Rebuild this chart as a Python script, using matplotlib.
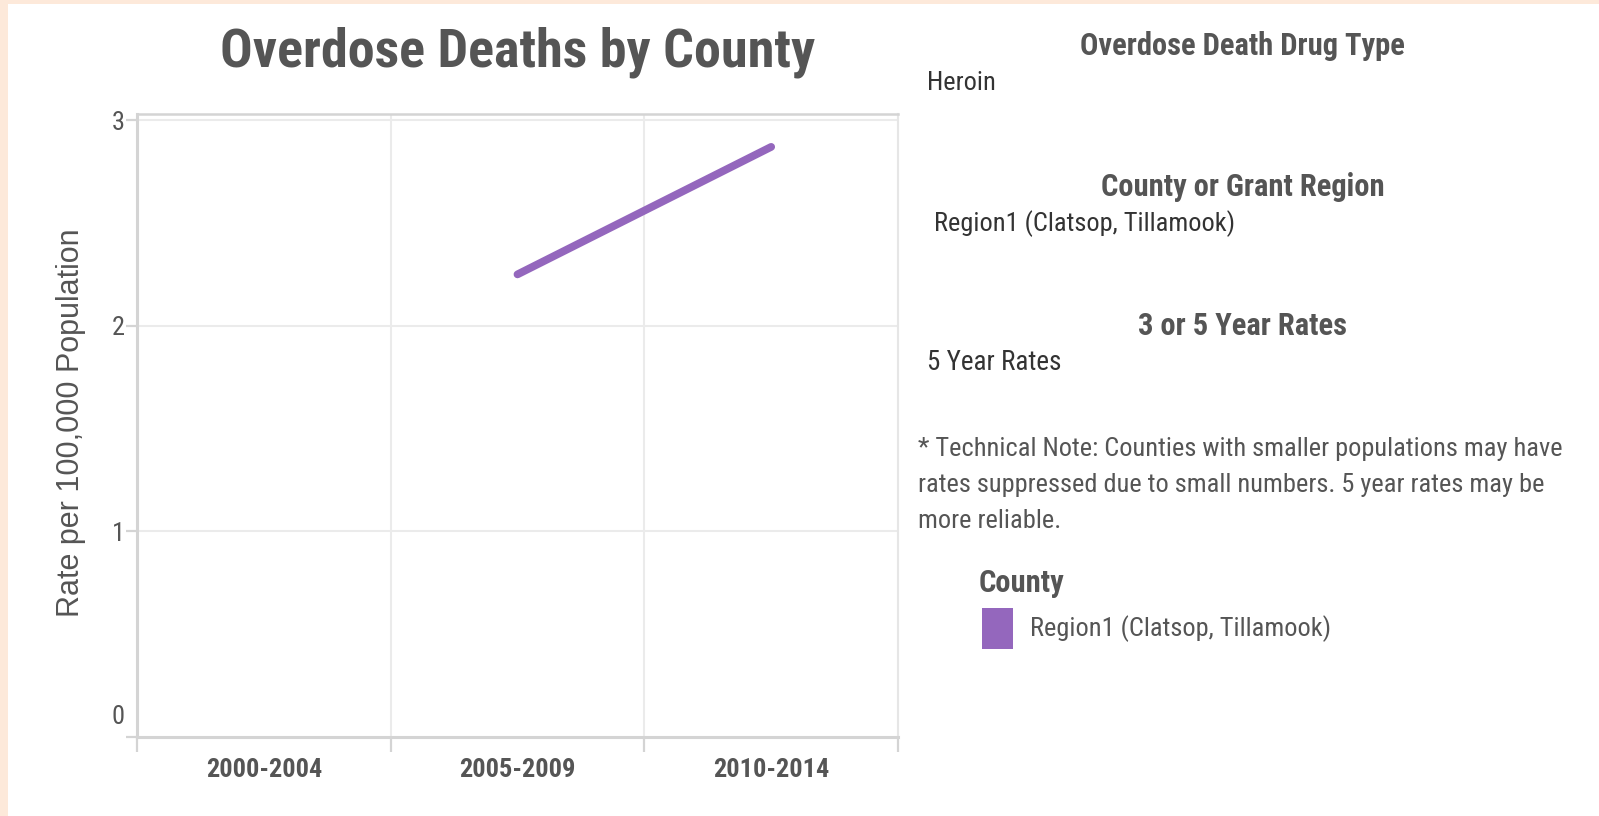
import numpy as np
import matplotlib
matplotlib.use("Agg")
import matplotlib.pyplot as plt
import matplotlib.transforms as mtransforms
from matplotlib.patches import Rectangle

# data
periods = ["2000-2004", "2005-2009", "2010-2014"]
rates = [np.nan, 2.25, 2.87]
series_name = "Region1 (Clatsop, Tillamook)"
y_ticks = [0, 1, 2, 3]

W, H = 1599, 816
NARROW = ["Roboto Condensed", "Liberation Sans", "DejaVu Sans"]
ARIAL = ["Liberation Sans", "DejaVu Sans"]
TXT = "#555555"
GRID = "#ebebeb"
AXC = "#d4d4d4"
PURPLE = "#9467bd"


def fx(px):
    return px / W


def fy(py):
    return 1 - py / H


fig = plt.figure(figsize=(W / 100, H / 100), dpi=100, facecolor="#fde9da")
fig.patches.append(Rectangle((fx(8), 0), 1, fy(4), transform=fig.transFigure,
                             facecolor="white", edgecolor="none", zorder=-5))

ax = fig.add_axes([fx(137), fy(737), fx(898 - 137), (737 - 114) / H])
x = np.arange(len(periods))
ax.plot(x, rates, color=PURPLE, lw=5.6, solid_capstyle="round", zorder=3)

ax.set_xlim(-0.5, 2.5)
ax.set_ylim(0, 3.03)
ax.set_xticks(x)
ax.set_xticklabels(periods, fontfamily=NARROW, fontweight="bold", fontsize=19, color=TXT)
ax.set_xticks([-0.5, 0.5, 1.5, 2.5], minor=True)
ax.tick_params(axis="x", which="major", length=0, pad=15)
ax.tick_params(axis="x", which="minor", length=11, width=1.6, color=AXC, direction="out")
ax.set_yticks(y_ticks)
ax.set_yticklabels([str(v) for v in y_ticks], fontfamily=NARROW, fontsize=19, color=TXT)
ax.tick_params(axis="y", length=8, width=1.6, color=AXC, pad=1)
zero_lab = ax.get_yticklabels()[0]
zero_lab.set_va("bottom")
zero_lab.set_transform(zero_lab.get_transform() +
                       mtransforms.ScaledTranslation(0, 6 / 72, fig.dpi_scale_trans))

for v in [0.5, 1.5]:
    ax.axvline(v, color=GRID, lw=1.5, zorder=1)
for v in [1, 2, 3]:
    ax.axhline(v, color=GRID, lw=1.5, zorder=1)

for s in ["left", "bottom"]:
    ax.spines[s].set_color(AXC)
    ax.spines[s].set_linewidth(2.2)
ax.spines["top"].set_color(AXC)
ax.spines["top"].set_linewidth(1.8)
ax.spines["right"].set_color("#e6e6e6")
ax.spines["right"].set_linewidth(1.5)

fig.text(fx(71), fy(423), "Rate per 100,000 Population", rotation=90,
         ha="center", va="center", fontfamily=ARIAL, fontsize=22, color=TXT)

fig.text(fx(518), fy(52), "Overdose Deaths by County", ha="center", va="center",
         fontfamily=NARROW, fontweight="bold", fontsize=39, color=TXT)

# right-hand filter / legend panel
fig.text(fx(1242), fy(46), "Overdose Death Drug Type", ha="center", va="center",
         fontfamily=NARROW, fontweight="bold", fontsize=22, color=TXT)
fig.text(fx(927), fy(83), "Heroin", ha="left", va="center",
         fontfamily=NARROW, fontsize=19, color="#333333")
fig.text(fx(1243), fy(187), "County or Grant Region", ha="center", va="center",
         fontfamily=NARROW, fontweight="bold", fontsize=22, color=TXT)
fig.text(fx(934), fy(224), series_name, ha="left", va="center",
         fontfamily=NARROW, fontsize=19, color="#333333")
fig.text(fx(1243), fy(326), "3 or 5 Year Rates", ha="center", va="center",
         fontfamily=NARROW, fontweight="bold", fontsize=22, color=TXT)
fig.text(fx(927), fy(363), "5 Year Rates", ha="left", va="center",
         fontfamily=NARROW, fontsize=19.5, color="#333333")

note = ["* Technical Note: Counties with smaller populations may have",
        "rates suppressed due to small numbers. 5 year rates may be",
        "more reliable."]
for i, line in enumerate(note):
    fig.text(fx(918), fy(449 + 36 * i), line, ha="left", va="center",
             fontfamily=NARROW, fontsize=19, color=TXT)

fig.text(fx(979), fy(583), "County", ha="left", va="center",
         fontfamily=NARROW, fontweight="bold", fontsize=22, color=TXT)
fig.patches.append(Rectangle((fx(982), fy(649)), fx(31), (649 - 608) / H,
                             transform=fig.transFigure, facecolor=PURPLE,
                             edgecolor="none"))
fig.text(fx(1030), fy(629), series_name, ha="left", va="center",
         fontfamily=NARROW, fontsize=19, color=TXT)

fig.savefig("out.png", dpi=100, facecolor=fig.get_facecolor())
